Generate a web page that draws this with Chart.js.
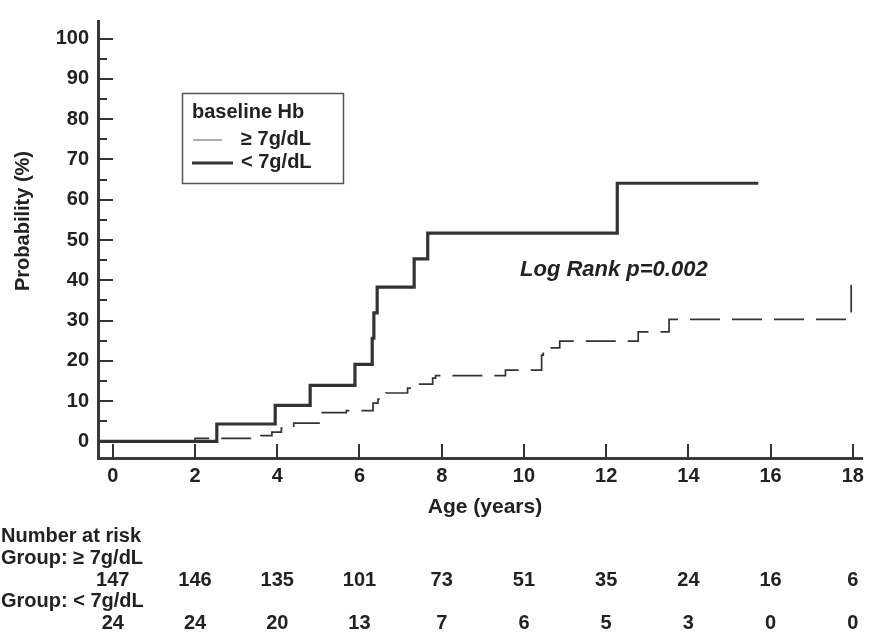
<!DOCTYPE html>
<html><head><meta charset="utf-8">
<script src="https://cdn.jsdelivr.net/npm/chart.js@4.4.1/dist/chart.umd.min.js"></script>
<style>html,body{margin:0;padding:0;background:#fff;}#wrap{width:870px;height:642px;}</style>
</head><body><div id="wrap"><canvas id="c" width="870" height="642"></canvas></div>
<script>
// ---- data ----
const xTicks = [0, 2, 4, 6, 8, 10, 12, 14, 16, 18];
const yTicks = [0, 10, 20, 30, 40, 50, 60, 70, 80, 90, 100];
const yMinorTicks = [5, 15, 25, 35, 45, 55, 65, 75, 85, 95];
const seriesLabels = ['\u2265 7g/dL', '< 7g/dL'];
// Hb >= 7 g/dL (thin dashed)
const highHbX = [-0.36, 2.0, 3.6, 3.87, 4.1, 4.4, 5.07, 5.68, 6.33, 6.45, 6.64, 7.17, 7.42, 7.78, 7.85, 9.55, 10.43, 10.47, 10.87, 12.78, 13.53, 17.96];
const highHbY = [0, 0.7, 1.4, 2.3, 3.3, 4.5, 7.1, 7.6, 9.5, 10.5, 12.0, 13.2, 14.2, 15.7, 16.3, 17.7, 21.4, 23.2, 24.9, 27.2, 30.3, 38.9];
// Hb < 7 g/dL (thick solid)
const lowHbX = [-0.36, 2.53, 3.95, 4.8, 5.89, 6.31, 6.35, 6.43, 7.33, 7.66, 12.27, 15.7];
const lowHbY = [0, 4.3, 8.9, 13.9, 19.1, 25.6, 31.9, 38.3, 45.3, 51.7, 64.1, 64.1];
// number at risk
const riskHigh = [147, 146, 135, 101, 73, 51, 35, 24, 16, 6];
const riskLow = [24, 24, 20, 13, 7, 6, 5, 3, 0, 0];

const toPts = (xs, ys) => xs.map((x, i) => ({x: x, y: ys[i]}));
const INK = '#333333';
const FONT = '"Liberation Sans", Arial, sans-serif';

const decor = {
  id: 'decor',
  beforeDatasetsDraw(chart) {
    const ctx = chart.ctx, xs = chart.scales.x, ys = chart.scales.y, ca = chart.chartArea;
    ctx.save();
    ctx.strokeStyle = INK; ctx.lineWidth = 2;
    ctx.beginPath();
    yTicks.forEach(v => { const p = Math.round(ys.getPixelForValue(v)); ctx.moveTo(ca.left, p); ctx.lineTo(ca.left + 15, p); });
    yMinorTicks.forEach(v => { const p = Math.round(ys.getPixelForValue(v)); ctx.moveTo(ca.left, p); ctx.lineTo(ca.left + 9, p); });
    xTicks.forEach(v => { const p = Math.round(xs.getPixelForValue(v)); ctx.moveTo(p, ca.bottom); ctx.lineTo(p, ca.bottom - 14); });
    ctx.stroke();
    ctx.restore();
  },
  afterDraw(chart) {
    const ctx = chart.ctx, xs = chart.scales.x;
    ctx.save();
    ctx.fillStyle = '#222';
    // y title
    ctx.save();
    ctx.translate(23, 221); ctx.rotate(-Math.PI / 2);
    ctx.font = 'bold 20px ' + FONT; ctx.textAlign = 'center'; ctx.textBaseline = 'middle';
    ctx.fillText('Probability (%)', 0, 0);
    ctx.restore();
    // legend box
    ctx.strokeStyle = '#555'; ctx.lineWidth = 1.5;
    ctx.strokeRect(182.5, 93.5, 161, 90);
    ctx.font = 'bold 20px ' + FONT; ctx.textBaseline = 'middle'; ctx.textAlign = 'left';
    ctx.fillText('baseline Hb', 192, 112);
    ctx.fillText(seriesLabels[0], 241, 139);
    ctx.fillText(seriesLabels[1], 241, 162);
    ctx.strokeStyle = '#777'; ctx.lineWidth = 1.2;
    ctx.beginPath(); ctx.moveTo(193, 140); ctx.lineTo(222, 140); ctx.stroke();
    ctx.strokeStyle = INK; ctx.lineWidth = 3.2;
    ctx.beginPath(); ctx.moveTo(192, 163); ctx.lineTo(233, 163); ctx.stroke();
    // log rank
    ctx.font = 'italic bold 22px ' + FONT; ctx.fillStyle = '#222';
    ctx.fillText('Log Rank p=0.002', 520, 270);
    // axis title & risk table
    ctx.font = 'bold 21px ' + FONT; ctx.textAlign = 'center';
    ctx.fillText('Age (years)', 485, 507);
    ctx.font = 'bold 20px ' + FONT;
    ctx.textAlign = 'left';
    ctx.fillText('Number at risk', 1, 536);
    ctx.fillText('Group: ' + seriesLabels[0], 1, 558);
    ctx.fillText('Group: ' + seriesLabels[1], 1, 601);
    ctx.textAlign = 'center';
    xTicks.forEach((v, i) => {
      const p = xs.getPixelForValue(v);
      ctx.fillText(String(riskHigh[i]), p, 580);
      ctx.fillText(String(riskLow[i]), p, 623);
    });
    ctx.restore();
  }
};

new Chart(document.getElementById('c'), {
  type: 'line',
  data: {
    datasets: [
      { label: seriesLabels[0], data: toPts(highHbX, highHbY), stepped: true, borderColor: INK, borderWidth: 1.7, borderDash: [30, 12], pointRadius: 0, fill: false },
      { label: seriesLabels[1], data: toPts(lowHbX, lowHbY), stepped: true, borderColor: INK, borderWidth: 3.2, pointRadius: 0, fill: false }
    ]
  },
  options: {
    responsive: false, animation: false, devicePixelRatio: 1,
    layout: { padding: { left: 0, top: 13, right: 2, bottom: 0 } },
    plugins: { legend: { display: false }, tooltip: { enabled: false } },
    scales: {
      x: {
        type: 'linear', min: -0.36, max: 18.24,
        afterBuildTicks: s => { s.ticks = xTicks.map(v => ({ value: v })); },
        afterFit: s => { s.height = 184; },
        grid: { display: true, drawOnChartArea: false, drawTicks: false },
        border: { display: true, width: 3, color: '#3a3a3a' },
        ticks: { padding: 6, color: '#222', font: { family: FONT, weight: 'bold', size: 20 }, maxRotation: 0 }
      },
      y: {
        type: 'linear', min: -4.15, max: 104.4,
        afterBuildTicks: s => { s.ticks = yTicks.map(v => ({ value: v })); },
        afterFit: s => { s.width = 98; },
        grid: { display: true, drawOnChartArea: false, drawTicks: false },
        border: { display: true, width: 3, color: '#3a3a3a' },
        ticks: { padding: 9, color: '#222', font: { family: FONT, weight: 'bold', size: 20 } }
      }
    }
  },
  plugins: [decor]
});
</script></body></html>
